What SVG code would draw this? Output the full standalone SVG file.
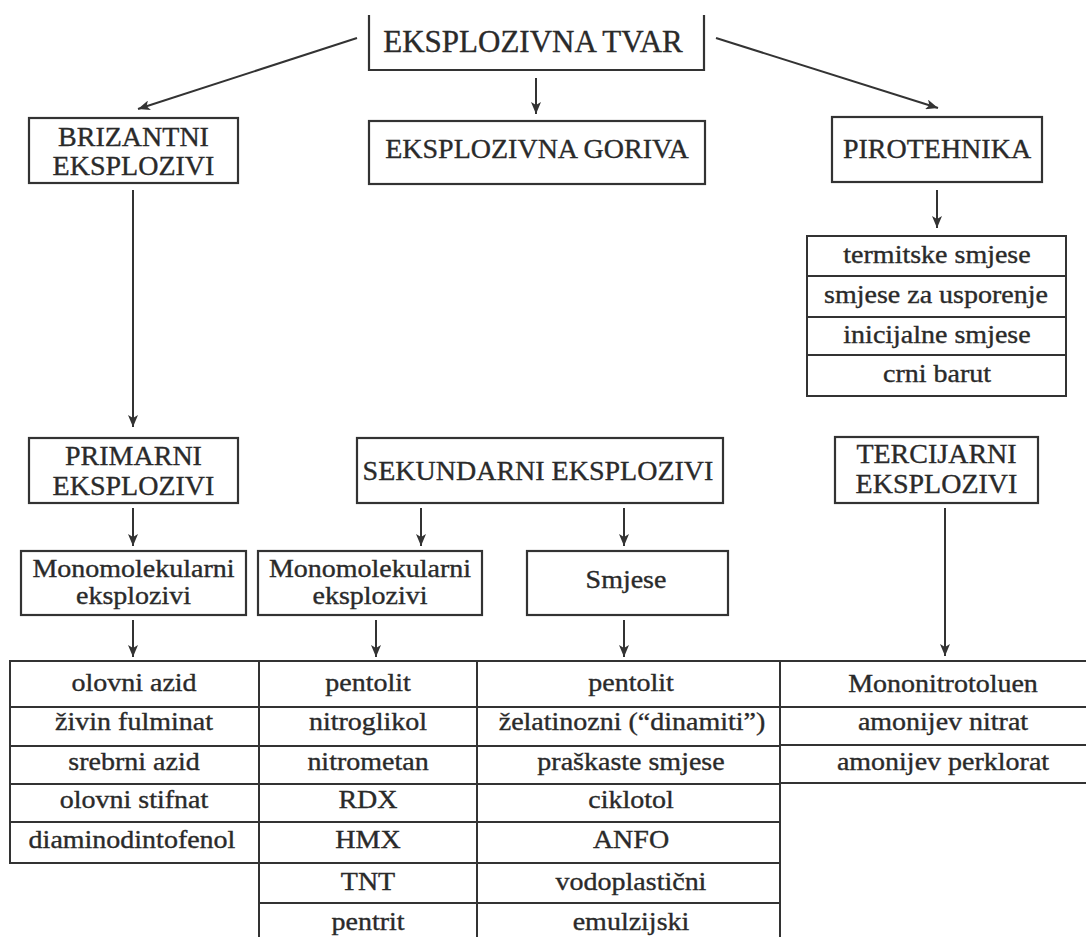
<svg xmlns="http://www.w3.org/2000/svg" width="1086" height="937" viewBox="0 0 1086 937">
<defs>
<style>
.box{fill:none;stroke:#333;stroke-width:2.2}
.grid{fill:none;stroke:#333;stroke-width:2}
.edge{fill:none;stroke:#333;stroke-width:2;marker-end:url(#ah)}
text{font-family:"Liberation Serif","Times New Roman",serif;fill:#2a2a2a;stroke:#2a2a2a;stroke-width:0.35;text-anchor:middle}
.uc{font-size:28px}
.top{font-size:31px}
.lc{font-size:25px}
</style>
<marker id="ah" viewBox="0 0 12 10" refX="12" refY="5" markerWidth="12" markerHeight="10" markerUnits="userSpaceOnUse" orient="auto">
<path d="M0,0 L12,5 L0,10 L3,5 z" fill="#333"/>
</marker>
</defs>
<rect width="1086" height="937" fill="#fff"/>

<g id="connectors">
<line class="edge" x1="357" y1="38" x2="138" y2="109"/>
<line class="edge" x1="536" y1="78" x2="536" y2="114"/>
<line class="edge" x1="716" y1="38" x2="938" y2="108"/>
<line class="edge" x1="937" y1="190" x2="937" y2="228"/>
<line class="edge" x1="133" y1="190" x2="133" y2="427"/>
<line class="edge" x1="133" y1="508" x2="133" y2="546"/>
<line class="edge" x1="421" y1="508" x2="421" y2="546"/>
<line class="edge" x1="624" y1="508" x2="624" y2="546"/>
<line class="edge" x1="133" y1="620" x2="133" y2="657"/>
<line class="edge" x1="376" y1="620" x2="376" y2="657"/>
<line class="edge" x1="624" y1="620" x2="624" y2="657"/>
<line class="edge" x1="945" y1="508" x2="945" y2="656"/>
</g>

<g id="eksplozivna-tvar">
<path class="box" d="M369,15 V70 H704 V15"/>
<text class="top" x="533" y="52">EKSPLOZIVNA TVAR</text>
</g>

<g id="brizantni">
<rect class="box" x="29" y="118" width="209" height="65"/>
<text class="uc" x="133.5" y="146">BRIZANTNI</text>
<text class="uc" x="133.5" y="175">EKSPLOZIVI</text>
</g>

<g id="goriva">
<rect class="box" x="369" y="121" width="336" height="63"/>
<text class="uc" x="537" y="158">EKSPLOZIVNA GORIVA</text>
</g>

<g id="pirotehnika">
<rect class="box" x="832" y="117" width="210" height="65"/>
<text class="uc" x="937" y="158">PIROTEHNIKA</text>
</g>

<g id="pirotehnika-lista">
<rect class="grid" x="807" y="236" width="259" height="160"/>
<path class="grid" d="M807,276 H1066 M807,317 H1066 M807,355 H1066"/>
<text class="lc" transform="translate(937,263) scale(1.12,1)">termitske smjese</text>
<text class="lc" transform="translate(936,303) scale(1.12,1)">smjese za usporenje</text>
<text class="lc" transform="translate(937,343) scale(1.12,1)">inicijalne smjese</text>
<text class="lc" transform="translate(937,382) scale(1.12,1)">crni barut</text>
</g>

<g id="primarni">
<rect class="box" x="29" y="438" width="209" height="65"/>
<text class="uc" x="133.5" y="465">PRIMARNI</text>
<text class="uc" x="133.5" y="495">EKSPLOZIVI</text>
</g>

<g id="sekundarni">
<rect class="box" x="357" y="438" width="366" height="65"/>
<text class="uc" x="538" y="480">SEKUNDARNI EKSPLOZIVI</text>
</g>

<g id="tercijarni">
<rect class="box" x="835" y="437" width="203" height="66"/>
<text class="uc" x="936.5" y="463">TERCIJARNI</text>
<text class="uc" x="936.5" y="493">EKSPLOZIVI</text>
</g>

<g id="mono-primarni">
<rect class="box" x="21" y="551" width="225" height="64"/>
<text class="lc" transform="translate(133.5,577) scale(1.12,1)">Monomolekularni</text>
<text class="lc" transform="translate(133.5,604) scale(1.12,1)">eksplozivi</text>
</g>

<g id="mono-sekundarni">
<rect class="box" x="258" y="551" width="224" height="64"/>
<text class="lc" transform="translate(370,577) scale(1.12,1)">Monomolekularni</text>
<text class="lc" transform="translate(370,604) scale(1.12,1)">eksplozivi</text>
</g>

<g id="smjese">
<rect class="box" x="527" y="551" width="201" height="64"/>
<text class="lc" transform="translate(626,588) scale(1.12,1)">Smjese</text>
</g>

<g id="lista-primarni">
<rect class="grid" x="10" y="661" width="249" height="202"/>
<path class="grid" d="M10,707 H259 M10,746 H259 M10,784 H259 M10,822 H259"/>
<text class="lc" transform="translate(134,691) scale(1.12,1)">olovni azid</text>
<text class="lc" transform="translate(134,730) scale(1.12,1)">živin fulminat</text>
<text class="lc" transform="translate(134,770) scale(1.12,1)">srebrni azid</text>
<text class="lc" transform="translate(134,808) scale(1.12,1)">olovni stifnat</text>
<text class="lc" transform="translate(132,848) scale(1.12,1)">diaminodintofenol</text>
</g>

<g id="lista-mono-sekundarni">
<path class="grid" d="M259,661 H477 M259,661 V937 M477,661 V937 M259,707 H477 M259,746 H477 M259,784 H477 M259,822 H477 M259,863 H477 M259,903 H477"/>
<text class="lc" transform="translate(368,691) scale(1.12,1)">pentolit</text>
<text class="lc" transform="translate(368,730) scale(1.12,1)">nitroglikol</text>
<text class="lc" transform="translate(368,770) scale(1.12,1)">nitrometan</text>
<text class="lc" transform="translate(368,808) scale(1.12,1)">RDX</text>
<text class="lc" transform="translate(368,848) scale(1.12,1)">HMX</text>
<text class="lc" transform="translate(368,890) scale(1.12,1)">TNT</text>
<text class="lc" transform="translate(368,930) scale(1.12,1)">pentrit</text>
</g>

<g id="lista-smjese">
<path class="grid" d="M477,661 H780 M780,661 V937 M477,707 H780 M477,746 H780 M477,784 H780 M477,822 H780 M477,863 H780 M477,903 H780"/>
<text class="lc" transform="translate(631,691) scale(1.12,1)">pentolit</text>
<text class="lc" transform="translate(632,730) scale(1.12,1)">želatinozni (“dinamiti”)</text>
<text class="lc" transform="translate(631,770) scale(1.12,1)">praškaste smjese</text>
<text class="lc" transform="translate(631,808) scale(1.12,1)">ciklotol</text>
<text class="lc" transform="translate(631,848) scale(1.12,1)">ANFO</text>
<text class="lc" transform="translate(631,890) scale(1.12,1)">vodoplastični</text>
<text class="lc" transform="translate(631,930) scale(1.12,1)">emulzijski</text>
</g>

<g id="lista-tercijarni">
<path class="grid" d="M780,661 H1086 M780,707 H1086 M780,745 H1086 M780,783 H1086"/>
<text class="lc" transform="translate(943,692) scale(1.12,1)">Mononitrotoluen</text>
<text class="lc" transform="translate(943,730) scale(1.12,1)">amonijev nitrat</text>
<text class="lc" transform="translate(943,770) scale(1.12,1)">amonijev perklorat</text>
</g>
</svg>
